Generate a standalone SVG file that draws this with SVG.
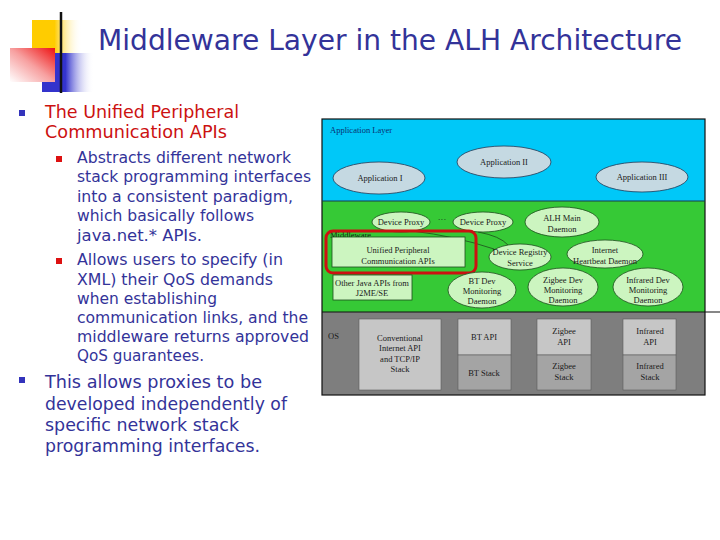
<svg xmlns="http://www.w3.org/2000/svg" width="720" height="540" viewBox="0 0 720 540">
<defs>
<linearGradient id="gY" x1="0" y1="0" x2="1" y2="0"><stop offset="0.45" stop-color="#ffcc00"/><stop offset="1" stop-color="#ffffff" stop-opacity="0"/></linearGradient>
<linearGradient id="gB" x1="0" y1="0" x2="1" y2="0"><stop offset="0.45" stop-color="#3333cc"/><stop offset="1" stop-color="#ffffff" stop-opacity="0"/></linearGradient>
<linearGradient id="gR" x1="0" y1="1" x2="1" y2="0"><stop offset="0" stop-color="#ffffff"/><stop offset="0.5" stop-color="#f7a0a0"/><stop offset="1" stop-color="#ee1111"/></linearGradient>
<linearGradient id="gL" x1="0" y1="0" x2="1" y2="0"><stop offset="0" stop-color="#111111"/><stop offset="0.45" stop-color="#888888"/><stop offset="1" stop-color="#ffffff"/></linearGradient>
<style>
.title{font-family:"DejaVu Sans","Liberation Sans",sans-serif;font-size:29px;fill:#333399}
.b1{font-family:"DejaVu Sans","Liberation Sans",sans-serif;font-size:18px;fill:#cc1111}
.b2{font-family:"DejaVu Sans","Liberation Sans",sans-serif;font-size:16px;fill:#333399}
.b3{font-family:"DejaVu Sans","Liberation Sans",sans-serif;font-size:18.5px;fill:#333399}
.d{font-family:"Liberation Serif",serif;font-size:8.5px;fill:#1a1a1a;text-anchor:middle}
.dl{font-family:"Liberation Serif",serif;font-size:8.5px;fill:#1a1a1a}
.app{fill:#c5d9e2;stroke:#2a3a55;stroke-width:0.8}
.mw{fill:#ccf5c0;stroke:#1d4d1d;stroke-width:0.8}
.box{fill:#c6c6c6;stroke:#5a5a5a;stroke-width:0.6}
.stk{fill:#a4a4a4;stroke:#5a5a5a;stroke-width:0.6}
.conn{fill:none;stroke:#1d4d1d;stroke-width:0.8}
</style>
</defs>
<rect width="720" height="540" fill="#ffffff"/>
<g id="decoration">
<rect x="32" y="20" width="50" height="33" fill="url(#gY)"/>
<rect x="42" y="53" width="52" height="39" fill="url(#gB)"/>
<rect x="10" y="48" width="45" height="34" fill="url(#gR)"/>
<line x1="61" y1="12" x2="61" y2="93" stroke="#111" stroke-width="2.5"/>
<line x1="33" y1="75" x2="700" y2="75" stroke="url(#gL)" stroke-width="3"/>
</g>
<text class="title" x="98" y="50" textLength="584" lengthAdjust="spacingAndGlyphs">Middleware Layer in the ALH Architecture</text>
<g id="bullets">
<rect x="19" y="110" width="6" height="6" fill="#3333bb"/>
<text class="b1" x="45" y="118" textLength="194" lengthAdjust="spacingAndGlyphs">The Unified Peripheral</text>
<text class="b1" x="45" y="138" textLength="182" lengthAdjust="spacingAndGlyphs">Communication APIs</text>
<rect x="56" y="156" width="6" height="6" fill="#dd1111"/>
<text class="b2" x="77" y="163" textLength="214" lengthAdjust="spacingAndGlyphs">Abstracts different network</text>
<text class="b2" x="77" y="182" textLength="234" lengthAdjust="spacingAndGlyphs">stack programming interfaces</text>
<text class="b2" x="77" y="202" textLength="216" lengthAdjust="spacingAndGlyphs">into a consistent paradigm,</text>
<text class="b2" x="77" y="221" textLength="177" lengthAdjust="spacingAndGlyphs">which basically follows</text>
<text class="b2" x="77" y="241" textLength="125" lengthAdjust="spacingAndGlyphs">java.net.* APIs.</text>
<rect x="56" y="258" width="6" height="6" fill="#dd1111"/>
<text class="b2" x="77" y="265" textLength="206" lengthAdjust="spacingAndGlyphs">Allows users to specify (in</text>
<text class="b2" x="77" y="285" textLength="196" lengthAdjust="spacingAndGlyphs">XML) their QoS demands</text>
<text class="b2" x="77" y="304" textLength="140" lengthAdjust="spacingAndGlyphs">when establishing</text>
<text class="b2" x="77" y="323" textLength="231" lengthAdjust="spacingAndGlyphs">communication links, and the</text>
<text class="b2" x="77" y="342" textLength="232" lengthAdjust="spacingAndGlyphs">middleware returns approved</text>
<text class="b2" x="77" y="361" textLength="127" lengthAdjust="spacingAndGlyphs">QoS guarantees.</text>
<rect x="19" y="377" width="6" height="6" fill="#3333bb"/>
<text class="b3" x="45" y="388" textLength="217" lengthAdjust="spacingAndGlyphs">This allows proxies to be</text>
<text class="b3" x="45" y="410" textLength="242" lengthAdjust="spacingAndGlyphs">developed independently of</text>
<text class="b3" x="45" y="431" textLength="194" lengthAdjust="spacingAndGlyphs">specific network stack</text>
<text class="b3" x="45" y="452" textLength="215" lengthAdjust="spacingAndGlyphs">programming interfaces.</text>
</g>
<g id="layers">
<rect x="322" y="119" width="383" height="82" fill="#00c8f8"/>
<rect x="322" y="201" width="383" height="111" fill="#36c936"/>
<rect x="322" y="312" width="383" height="83" fill="#7e7e7e"/>
<rect x="322" y="119" width="383" height="276" fill="none" stroke="#111" stroke-width="1.2"/>
<line x1="322" y1="201" x2="705" y2="201" stroke="#1a3a4a" stroke-width="1"/>
<line x1="322" y1="312" x2="720" y2="312" stroke="#111" stroke-width="1.2"/>
<text class="dl" x="330" y="133" style="fill:#0a3070">Application Layer</text>
<text class="dl" x="330" y="238">Middleware</text>
<text class="dl" x="328" y="339">OS</text>
</g>
<g id="connectors">
<path class="conn" d="M 412 231 Q 455 236 494 249"/>
<path class="conn" d="M 478 232 Q 500 236 508 245"/>
</g>
<g id="app1"><ellipse class="app" cx="379" cy="178" rx="46" ry="16"/><text class="d" x="380" y="181">Application I</text></g>
<g id="app2"><ellipse class="app" cx="504" cy="162" rx="47" ry="16"/><text class="d" x="504" y="165">Application II</text></g>
<g id="app3"><ellipse class="app" cx="642" cy="177" rx="46" ry="15"/><text class="d" x="642" y="180">Application III</text></g>
<g id="proxy1"><ellipse class="mw" cx="401" cy="222" rx="29" ry="10"/><text class="d" x="401" y="225">Device Proxy</text></g>
<text class="d" x="442" y="222">···</text>
<g id="proxy2"><ellipse class="mw" cx="483" cy="222" rx="30" ry="10"/><text class="d" x="483" y="225">Device Proxy</text></g>
<g id="alhmain"><ellipse class="mw" cx="562" cy="222" rx="37" ry="15"/><text class="d" x="562" y="221">ALH Main</text><text class="d" x="562" y="232">Daemon</text></g>
<g id="unified"><rect class="mw" x="332" y="237" width="133" height="30"/><text class="d" x="398" y="253">Unified Peripheral</text><text class="d" x="398" y="264">Communication APIs</text>
<rect x="326" y="231" width="150" height="42" rx="7" fill="none" stroke="#cc1111" stroke-width="3"/></g>
<g id="registry"><ellipse class="mw" cx="520" cy="257" rx="31" ry="13"/><text class="d" x="520" y="255">Device Registry</text><text class="d" x="520" y="266">Service</text></g>
<g id="heartbeat"><ellipse class="mw" cx="605" cy="254" rx="38" ry="14"/><text class="d" x="605" y="253">Internet</text><text class="d" x="605" y="264">Heartbeat Daemon</text></g>
<g id="otherjava"><rect class="mw" x="333" y="275" width="79" height="25"/><text class="d" x="372" y="286">Other Java APIs from</text><text class="d" x="372" y="296">J2ME/SE</text></g>
<g id="btdev"><ellipse class="mw" cx="482" cy="290" rx="34" ry="18"/><text class="d" x="482" y="284">BT Dev</text><text class="d" x="482" y="294">Monitoring</text><text class="d" x="482" y="304">Daemon</text></g>
<g id="zigbeedev"><ellipse class="mw" cx="563" cy="287" rx="35" ry="19"/><text class="d" x="563" y="283">Zigbee Dev</text><text class="d" x="563" y="293">Monitoring</text><text class="d" x="563" y="303">Daemon</text></g>
<g id="irdev"><ellipse class="mw" cx="648" cy="287" rx="35" ry="19"/><text class="d" x="648" y="283">Infrared Dev</text><text class="d" x="648" y="293">Monitoring</text><text class="d" x="648" y="303">Daemon</text></g>
<g id="tcpip"><rect class="box" x="359" y="319" width="82" height="71"/><text class="d" x="400" y="341">Conventional</text><text class="d" x="400" y="351">Internet API</text><text class="d" x="400" y="362">and TCP/IP</text><text class="d" x="400" y="372">Stack</text></g>
<g id="bt"><rect class="box" x="458" y="319" width="53" height="36"/><rect class="stk" x="458" y="355" width="53" height="35"/><text class="d" x="484" y="340">BT API</text><text class="d" x="484" y="376">BT Stack</text></g>
<g id="zigbee"><rect class="box" x="537" y="319" width="54" height="36"/><rect class="stk" x="537" y="355" width="54" height="35"/><text class="d" x="564" y="334">Zigbee</text><text class="d" x="564" y="345">API</text><text class="d" x="564" y="369">Zigbee</text><text class="d" x="564" y="380">Stack</text></g>
<g id="infrared"><rect class="box" x="623" y="319" width="53" height="36"/><rect class="stk" x="623" y="355" width="53" height="35"/><text class="d" x="650" y="334">Infrared</text><text class="d" x="650" y="345">API</text><text class="d" x="650" y="369">Infrared</text><text class="d" x="650" y="380">Stack</text></g>
</svg>
